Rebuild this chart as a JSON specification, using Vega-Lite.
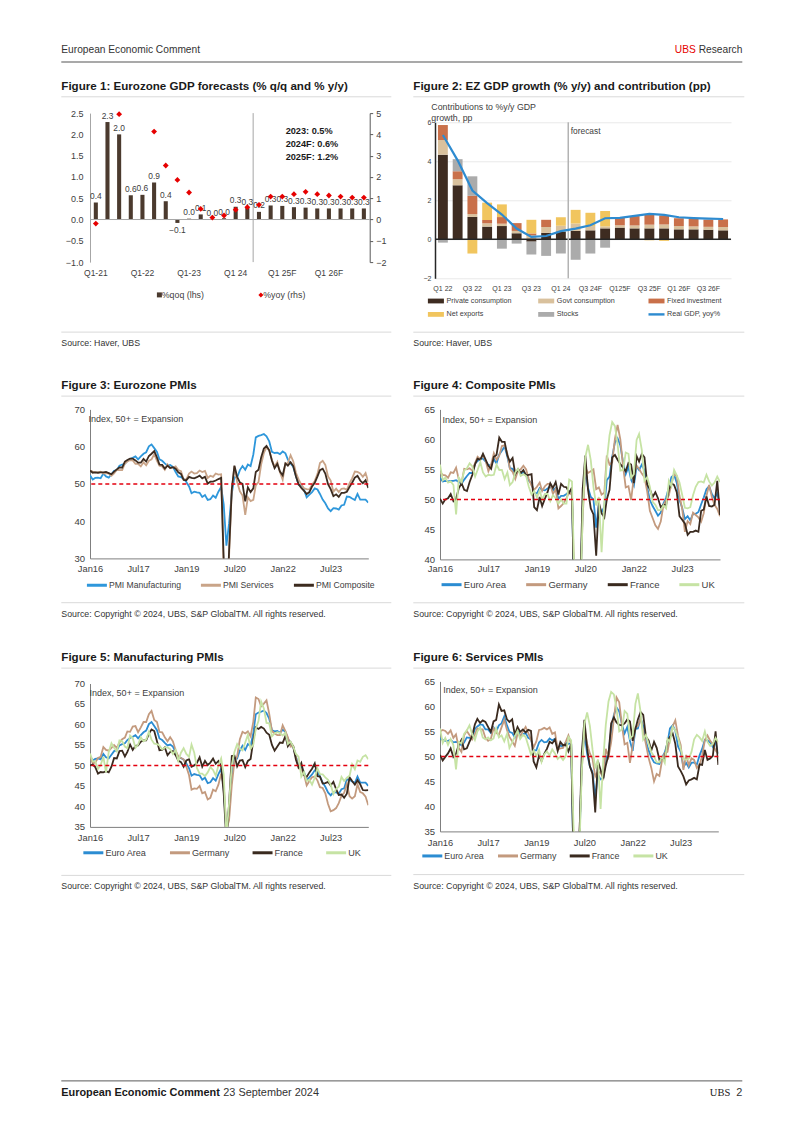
{
"$schema": "https://vega.github.io/schema/vega-lite/v6.json",
"background": "white",
"autosize": {"type": "pad"},
"padding": {"left": 60, "top": 44.5, "right": 20, "bottom": 20},
"datasets": {
"pmi": [
{"d":"2016-01","em":52.3,"es":53.6,"ec":53.6,"gm":52.3,"gs":55.0,"gc":54.5,"fm":50.0,"fs":50.3,"fc":50.1,"um":52.9,"us":55.6,"uc":55.8},
{"d":"2016-02","em":51.2,"es":53.3,"ec":53.0,"gm":50.5,"gs":55.3,"gc":54.1,"fm":50.2,"fs":49.2,"fc":49.3,"um":51.0,"us":52.7,"uc":53.2},
{"d":"2016-03","em":51.6,"es":53.1,"ec":53.1,"gm":50.7,"gs":55.1,"gc":54.0,"fm":49.6,"fs":49.9,"fc":50.0,"um":51.0,"us":53.7,"uc":53.6},
{"d":"2016-04","em":51.7,"es":53.1,"ec":53.0,"gm":51.8,"gs":54.5,"gc":53.6,"fm":48.0,"fs":50.6,"fc":50.2,"um":49.2,"us":52.3,"uc":52.8},
{"d":"2016-05","em":51.5,"es":53.3,"ec":53.1,"gm":52.1,"gs":55.2,"gc":54.5,"fm":48.4,"fs":51.6,"fc":50.9,"um":50.1,"us":53.5,"uc":53.0},
{"d":"2016-06","em":52.8,"es":52.8,"ec":53.1,"gm":54.5,"gs":53.7,"gc":54.4,"fm":48.3,"fs":49.9,"fc":49.7,"um":52.1,"us":52.3,"uc":52.4},
{"d":"2016-07","em":52.0,"es":52.9,"ec":53.2,"gm":53.8,"gs":54.4,"gc":55.3,"fm":48.6,"fs":50.5,"fc":50.1,"um":48.3,"us":47.4,"uc":47.5},
{"d":"2016-08","em":51.7,"es":52.8,"ec":52.9,"gm":53.6,"gs":51.7,"gc":53.3,"fm":48.3,"fs":52.3,"fc":51.9,"um":53.3,"us":52.9,"uc":53.6},
{"d":"2016-09","em":52.6,"es":52.2,"ec":52.6,"gm":54.3,"gs":50.9,"gc":52.8,"fm":49.7,"fs":53.3,"fc":52.7,"um":55.4,"us":52.6,"uc":52.9},
{"d":"2016-10","em":53.5,"es":52.8,"ec":53.3,"gm":55.0,"gs":54.2,"gc":55.1,"fm":51.8,"fs":51.4,"fc":51.6,"um":54.3,"us":54.5,"uc":54.8},
{"d":"2016-11","em":53.7,"es":53.8,"ec":53.9,"gm":54.3,"gs":55.1,"gc":55.0,"fm":51.7,"fs":51.6,"fc":51.4,"um":53.4,"us":55.2,"uc":55.2},
{"d":"2016-12","em":54.9,"es":53.7,"ec":54.4,"gm":55.6,"gs":54.3,"gc":55.2,"fm":53.5,"fs":52.9,"fc":52.9,"um":56.1,"us":56.2,"uc":56.0},
{"d":"2017-01","em":55.2,"es":53.7,"ec":54.4,"gm":56.4,"gs":53.4,"gc":54.8,"fm":53.6,"fs":54.1,"fc":54.1,"um":55.9,"us":54.5,"uc":55.5},
{"d":"2017-02","em":55.4,"es":55.5,"ec":56.0,"gm":56.8,"gs":54.4,"gc":56.1,"fm":52.2,"fs":56.4,"fc":55.9,"um":54.6,"us":53.3,"uc":53.8},
{"d":"2017-03","em":56.2,"es":56.0,"ec":56.4,"gm":58.3,"gs":55.6,"gc":57.1,"fm":53.3,"fs":57.5,"fc":56.8,"um":54.2,"us":55.0,"uc":54.9},
{"d":"2017-04","em":56.7,"es":56.4,"ec":56.8,"gm":58.2,"gs":55.4,"gc":56.7,"fm":55.1,"fs":56.7,"fc":56.6,"um":57.3,"us":55.8,"uc":56.2},
{"d":"2017-05","em":57.0,"es":56.3,"ec":56.8,"gm":59.5,"gs":55.4,"gc":57.4,"fm":53.8,"fs":57.2,"fc":57.6,"um":56.7,"us":53.8,"uc":54.5},
{"d":"2017-06","em":57.4,"es":55.4,"ec":56.3,"gm":59.6,"gs":53.7,"gc":56.4,"fm":54.8,"fs":56.9,"fc":56.6,"um":54.3,"us":53.4,"uc":53.8},
{"d":"2017-07","em":56.6,"es":55.4,"ec":55.7,"gm":58.1,"gs":53.1,"gc":54.7,"fm":54.9,"fs":55.9,"fc":55.6,"um":55.1,"us":53.8,"uc":54.1},
{"d":"2017-08","em":57.4,"es":54.7,"ec":55.7,"gm":59.3,"gs":53.5,"gc":55.8,"fm":55.8,"fs":54.9,"fc":55.1,"um":56.9,"us":53.2,"uc":54.0},
{"d":"2017-09","em":58.1,"es":55.8,"ec":56.7,"gm":60.6,"gs":55.6,"gc":57.7,"fm":56.1,"fs":57.0,"fc":57.1,"um":55.9,"us":53.6,"uc":54.1},
{"d":"2017-10","em":58.5,"es":55.0,"ec":56.0,"gm":60.6,"gs":54.7,"gc":56.6,"fm":56.1,"fs":57.3,"fc":57.4,"um":56.3,"us":55.6,"uc":55.8},
{"d":"2017-11","em":60.1,"es":56.2,"ec":57.5,"gm":62.5,"gs":54.3,"gc":57.3,"fm":57.7,"fs":60.4,"fc":60.3,"um":58.2,"us":53.8,"uc":54.9},
{"d":"2017-12","em":60.6,"es":56.6,"ec":58.1,"gm":63.3,"gs":55.8,"gc":58.9,"fm":58.8,"fs":59.1,"fc":59.6,"um":56.3,"us":54.2,"uc":54.9},
{"d":"2018-01","em":59.6,"es":58.0,"ec":58.8,"gm":61.1,"gs":57.3,"gc":59.0,"fm":58.4,"fs":59.2,"fc":59.6,"um":55.3,"us":53.0,"uc":53.4},
{"d":"2018-02","em":58.6,"es":56.2,"ec":57.1,"gm":60.6,"gs":55.3,"gc":57.6,"fm":55.9,"fs":57.4,"fc":57.3,"um":55.2,"us":54.5,"uc":54.5},
{"d":"2018-03","em":56.6,"es":54.9,"ec":55.2,"gm":58.2,"gs":53.9,"gc":55.1,"fm":53.7,"fs":56.9,"fc":56.3,"um":54.9,"us":51.7,"uc":52.4},
{"d":"2018-04","em":56.2,"es":54.7,"ec":55.1,"gm":58.1,"gs":53.0,"gc":54.6,"fm":53.8,"fs":57.4,"fc":56.9,"um":53.9,"us":52.8,"uc":52.9},
{"d":"2018-05","em":55.5,"es":53.8,"ec":54.1,"gm":56.9,"gs":52.1,"gc":53.4,"fm":54.4,"fs":54.3,"fc":54.2,"um":54.4,"us":54.0,"uc":54.5},
{"d":"2018-06","em":54.9,"es":55.2,"ec":54.9,"gm":55.9,"gs":54.5,"gc":54.8,"fm":52.5,"fs":55.9,"fc":55.0,"um":54.4,"us":55.1,"uc":55.1},
{"d":"2018-07","em":55.1,"es":54.2,"ec":54.3,"gm":56.9,"gs":54.1,"gc":55.0,"fm":53.3,"fs":54.9,"fc":54.4,"um":54.0,"us":53.5,"uc":53.9},
{"d":"2018-08","em":54.6,"es":54.4,"ec":54.5,"gm":55.9,"gs":55.0,"gc":55.6,"fm":53.5,"fs":55.4,"fc":54.9,"um":52.8,"us":54.3,"uc":54.2},
{"d":"2018-09","em":53.2,"es":54.7,"ec":54.1,"gm":53.7,"gs":55.9,"gc":55.0,"fm":52.5,"fs":54.8,"fc":54.0,"um":53.8,"us":53.9,"uc":53.9},
{"d":"2018-10","em":52.0,"es":53.7,"ec":53.1,"gm":52.2,"gs":54.7,"gc":53.4,"fm":51.2,"fs":55.3,"fc":54.1,"um":51.1,"us":52.2,"uc":52.1},
{"d":"2018-11","em":51.8,"es":53.4,"ec":52.7,"gm":51.8,"gs":53.3,"gc":52.3,"fm":50.8,"fs":55.1,"fc":54.2,"um":53.1,"us":50.4,"uc":50.8},
{"d":"2018-12","em":51.4,"es":51.2,"ec":51.1,"gm":51.5,"gs":51.8,"gc":51.6,"fm":49.7,"fs":49.0,"fc":48.7,"um":54.2,"us":51.2,"uc":51.4},
{"d":"2019-01","em":50.5,"es":51.2,"ec":51.0,"gm":49.7,"gs":53.0,"gc":52.1,"fm":51.2,"fs":47.8,"fc":48.2,"um":52.8,"us":50.1,"uc":50.3},
{"d":"2019-02","em":49.3,"es":52.8,"ec":51.9,"gm":47.6,"gs":55.3,"gc":52.8,"fm":51.5,"fs":50.2,"fc":50.4,"um":52.1,"us":51.3,"uc":51.5},
{"d":"2019-03","em":47.5,"es":53.3,"ec":51.6,"gm":44.1,"gs":55.4,"gc":51.4,"fm":49.7,"fs":49.1,"fc":48.9,"um":55.1,"us":48.9,"uc":50.0},
{"d":"2019-04","em":47.9,"es":52.8,"ec":51.5,"gm":44.4,"gs":55.7,"gc":52.2,"fm":50.0,"fs":50.5,"fc":50.1,"um":53.1,"us":50.4,"uc":50.9},
{"d":"2019-05","em":47.7,"es":52.9,"ec":51.8,"gm":44.3,"gs":55.4,"gc":52.6,"fm":50.6,"fs":51.5,"fc":51.2,"um":49.4,"us":51.0,"uc":50.9},
{"d":"2019-06","em":47.6,"es":53.6,"ec":52.2,"gm":45.0,"gs":55.8,"gc":52.6,"fm":52.0,"fs":52.9,"fc":52.7,"um":48.0,"us":50.2,"uc":49.7},
{"d":"2019-07","em":46.5,"es":53.2,"ec":51.5,"gm":43.2,"gs":54.5,"gc":50.9,"fm":49.7,"fs":52.6,"fc":51.9,"um":48.0,"us":51.4,"uc":50.7},
{"d":"2019-08","em":47.0,"es":53.5,"ec":51.9,"gm":43.5,"gs":54.8,"gc":51.7,"fm":51.1,"fs":53.4,"fc":52.9,"um":47.4,"us":50.6,"uc":50.2},
{"d":"2019-09","em":45.7,"es":51.6,"ec":50.1,"gm":41.7,"gs":51.4,"gc":48.5,"fm":50.1,"fs":51.1,"fc":50.8,"um":48.3,"us":49.5,"uc":49.3},
{"d":"2019-10","em":45.9,"es":52.2,"ec":50.6,"gm":42.1,"gs":51.6,"gc":48.9,"fm":50.7,"fs":52.9,"fc":52.6,"um":49.6,"us":50.0,"uc":50.0},
{"d":"2019-11","em":46.9,"es":51.9,"ec":50.6,"gm":44.1,"gs":51.7,"gc":49.4,"fm":51.7,"fs":52.2,"fc":52.1,"um":48.9,"us":49.3,"uc":49.3},
{"d":"2019-12","em":46.3,"es":52.8,"ec":50.9,"gm":43.7,"gs":52.9,"gc":50.2,"fm":50.4,"fs":52.4,"fc":52.0,"um":47.5,"us":50.0,"uc":49.3},
{"d":"2020-01","em":47.9,"es":52.5,"ec":51.3,"gm":45.3,"gs":54.2,"gc":51.2,"fm":51.1,"fs":51.0,"fc":51.1,"um":50.0,"us":53.9,"uc":53.3},
{"d":"2020-02","em":49.2,"es":52.6,"ec":51.6,"gm":48.0,"gs":52.5,"gc":50.7,"fm":49.8,"fs":52.5,"fc":52.0,"um":51.7,"us":53.2,"uc":53.0},
{"d":"2020-03","em":44.5,"es":26.4,"ec":29.7,"gm":45.4,"gs":31.7,"gc":35.0,"fm":43.2,"fs":27.4,"fc":28.9,"um":47.8,"us":34.5,"uc":36.0},
{"d":"2020-04","em":33.4,"es":12.0,"ec":13.6,"gm":34.5,"gs":16.2,"gc":17.4,"fm":31.5,"fs":10.2,"fc":11.1,"um":32.6,"us":13.4,"uc":13.8},
{"d":"2020-05","em":39.4,"es":30.5,"ec":31.9,"gm":36.6,"gs":32.6,"gc":32.3,"fm":40.6,"fs":31.1,"fc":32.1,"um":40.7,"us":29.0,"uc":30.0},
{"d":"2020-06","em":47.4,"es":48.3,"ec":48.5,"gm":45.2,"gs":47.3,"gc":47.0,"fm":52.3,"fs":50.7,"fc":51.7,"um":50.1,"us":47.1,"uc":47.7},
{"d":"2020-07","em":51.8,"es":54.7,"ec":54.9,"gm":51.0,"gs":55.6,"gc":55.3,"fm":52.4,"fs":57.3,"fc":57.3,"um":53.3,"us":56.5,"uc":57.0},
{"d":"2020-08","em":51.7,"es":50.5,"ec":51.9,"gm":52.2,"gs":52.5,"gc":54.4,"fm":49.8,"fs":51.5,"fc":51.6,"um":55.2,"us":58.8,"uc":59.1},
{"d":"2020-09","em":53.7,"es":48.0,"ec":50.4,"gm":56.4,"gs":50.6,"gc":54.7,"fm":51.2,"fs":48.0,"fc":48.5,"um":54.1,"us":56.1,"uc":56.5},
{"d":"2020-10","em":54.8,"es":46.9,"ec":50.0,"gm":58.2,"gs":49.5,"gc":55.0,"fm":51.3,"fs":46.5,"fc":47.5,"um":53.7,"us":51.4,"uc":52.1},
{"d":"2020-11","em":53.8,"es":41.7,"ec":45.3,"gm":57.8,"gs":46.0,"gc":51.7,"fm":49.6,"fs":38.8,"fc":40.6,"um":55.6,"us":47.6,"uc":49.0},
{"d":"2020-12","em":55.2,"es":46.4,"ec":49.1,"gm":58.3,"gs":47.0,"gc":52.0,"fm":51.1,"fs":49.1,"fc":49.5,"um":57.5,"us":49.4,"uc":50.4},
{"d":"2021-01","em":54.8,"es":45.4,"ec":47.8,"gm":57.1,"gs":46.7,"gc":50.8,"fm":51.6,"fs":47.3,"fc":47.7,"um":54.1,"us":39.5,"uc":41.2},
{"d":"2021-02","em":57.9,"es":45.7,"ec":48.8,"gm":60.7,"gs":45.7,"gc":51.1,"fm":56.1,"fs":45.6,"fc":47.0,"um":55.1,"us":49.5,"uc":49.6},
{"d":"2021-03","em":62.5,"es":49.6,"ec":53.2,"gm":66.6,"gs":51.5,"gc":57.3,"fm":59.3,"fs":48.2,"fc":50.0,"um":58.9,"us":56.3,"uc":56.4},
{"d":"2021-04","em":62.9,"es":50.5,"ec":53.8,"gm":66.2,"gs":49.9,"gc":55.8,"fm":58.9,"fs":50.3,"fc":51.6,"um":60.9,"us":61.0,"uc":60.7},
{"d":"2021-05","em":63.1,"es":55.2,"ec":57.1,"gm":64.4,"gs":52.8,"gc":56.2,"fm":59.4,"fs":56.6,"fc":57.0,"um":65.6,"us":62.9,"uc":62.9},
{"d":"2021-06","em":63.4,"es":58.3,"ec":59.5,"gm":65.1,"gs":57.5,"gc":60.1,"fm":59.0,"fs":57.8,"fc":57.4,"um":63.9,"us":62.4,"uc":62.2},
{"d":"2021-07","em":62.8,"es":59.8,"ec":60.2,"gm":65.9,"gs":61.8,"gc":62.4,"fm":58.0,"fs":56.8,"fc":56.6,"um":60.4,"us":59.6,"uc":59.2},
{"d":"2021-08","em":61.4,"es":59.0,"ec":59.0,"gm":62.6,"gs":60.8,"gc":60.0,"fm":57.5,"fs":56.3,"fc":55.9,"um":60.3,"us":55.0,"uc":54.8},
{"d":"2021-09","em":58.6,"es":56.4,"ec":56.2,"gm":58.4,"gs":56.2,"gc":55.5,"fm":55.0,"fs":56.2,"fc":55.3,"um":57.1,"us":55.4,"uc":54.9},
{"d":"2021-10","em":58.3,"es":54.6,"ec":54.2,"gm":57.8,"gs":52.4,"gc":52.0,"fm":53.6,"fs":56.6,"fc":54.7,"um":57.8,"us":59.1,"uc":57.8},
{"d":"2021-11","em":58.4,"es":55.9,"ec":55.4,"gm":57.4,"gs":52.7,"gc":52.2,"fm":54.6,"fs":57.4,"fc":56.1,"um":58.1,"us":58.5,"uc":57.6},
{"d":"2021-12","em":58.0,"es":53.1,"ec":53.3,"gm":57.4,"gs":48.7,"gc":49.9,"fm":55.6,"fs":57.0,"fc":55.8,"um":57.9,"us":53.6,"uc":53.6},
{"d":"2022-01","em":58.7,"es":51.1,"ec":52.3,"gm":59.8,"gs":52.2,"gc":53.8,"fm":55.5,"fs":53.1,"fc":52.7,"um":57.3,"us":54.1,"uc":54.2},
{"d":"2022-02","em":58.2,"es":55.5,"ec":55.5,"gm":58.4,"gs":55.8,"gc":55.6,"fm":57.2,"fs":55.5,"fc":57.2,"um":58.0,"us":60.5,"uc":59.9},
{"d":"2022-03","em":56.5,"es":55.6,"ec":54.9,"gm":56.9,"gs":56.1,"gc":55.1,"fm":54.7,"fs":57.4,"fc":56.3,"um":55.2,"us":62.6,"uc":60.9},
{"d":"2022-04","em":55.5,"es":57.7,"ec":55.8,"gm":54.6,"gs":57.6,"gc":54.3,"fm":55.7,"fs":58.9,"fc":57.6,"um":55.8,"us":58.9,"uc":58.2},
{"d":"2022-05","em":54.6,"es":56.1,"ec":54.8,"gm":54.8,"gs":55.0,"gc":53.7,"fm":54.6,"fs":58.3,"fc":57.0,"um":54.6,"us":53.4,"uc":53.1},
{"d":"2022-06","em":52.1,"es":53.0,"ec":52.0,"gm":52.0,"gs":52.4,"gc":51.3,"fm":51.4,"fs":53.9,"fc":52.5,"um":52.8,"us":54.3,"uc":53.7},
{"d":"2022-07","em":49.8,"es":51.2,"ec":49.9,"gm":49.3,"gs":49.7,"gc":48.1,"fm":49.5,"fs":53.2,"fc":51.7,"um":52.1,"us":52.6,"uc":52.1},
{"d":"2022-08","em":49.6,"es":49.8,"ec":48.9,"gm":49.1,"gs":47.7,"gc":46.9,"fm":50.6,"fs":51.2,"fc":50.4,"um":47.3,"us":50.9,"uc":49.6},
{"d":"2022-09","em":48.4,"es":48.8,"ec":48.1,"gm":47.8,"gs":45.0,"gc":45.7,"fm":47.7,"fs":52.9,"fc":51.2,"um":48.4,"us":50.0,"uc":49.1},
{"d":"2022-10","em":46.4,"es":48.6,"ec":47.3,"gm":45.1,"gs":46.5,"gc":45.1,"fm":47.2,"fs":51.7,"fc":50.2,"um":46.2,"us":48.8,"uc":48.2},
{"d":"2022-11","em":47.1,"es":48.5,"ec":47.8,"gm":46.2,"gs":46.1,"gc":46.3,"fm":48.3,"fs":49.3,"fc":48.7,"um":46.5,"us":48.8,"uc":48.2},
{"d":"2022-12","em":47.8,"es":49.8,"ec":49.3,"gm":47.1,"gs":49.2,"gc":49.0,"fm":49.2,"fs":49.5,"fc":49.1,"um":45.3,"us":49.9,"uc":49.0},
{"d":"2023-01","em":48.8,"es":50.8,"ec":50.3,"gm":47.3,"gs":50.7,"gc":49.9,"fm":50.5,"fs":49.4,"fc":49.1,"um":47.0,"us":48.7,"uc":48.5},
{"d":"2023-02","em":48.5,"es":52.7,"ec":52.0,"gm":46.3,"gs":50.9,"gc":50.7,"fm":47.4,"fs":53.1,"fc":51.7,"um":49.3,"us":53.5,"uc":53.1},
{"d":"2023-03","em":47.3,"es":55.6,"ec":53.7,"gm":44.7,"gs":53.7,"gc":52.6,"fm":47.3,"fs":53.9,"fc":52.7,"um":47.9,"us":52.9,"uc":52.2},
{"d":"2023-04","em":45.8,"es":56.2,"ec":54.1,"gm":44.5,"gs":56.0,"gc":54.2,"fm":45.6,"fs":54.6,"fc":52.4,"um":47.8,"us":55.9,"uc":54.9},
{"d":"2023-05","em":44.8,"es":55.1,"ec":52.8,"gm":43.2,"gs":57.2,"gc":53.9,"fm":45.7,"fs":52.5,"fc":51.2,"um":47.1,"us":55.2,"uc":54.0},
{"d":"2023-06","em":43.4,"es":52.0,"ec":49.9,"gm":40.6,"gs":54.1,"gc":50.6,"fm":46.0,"fs":48.0,"fc":47.2,"um":46.5,"us":53.7,"uc":52.8},
{"d":"2023-07","em":42.7,"es":50.9,"ec":48.6,"gm":38.8,"gs":52.3,"gc":48.5,"fm":45.1,"fs":47.1,"fc":46.6,"um":45.3,"us":51.5,"uc":50.8},
{"d":"2023-08","em":43.5,"es":47.9,"ec":46.7,"gm":39.1,"gs":47.3,"gc":44.6,"fm":46.0,"fs":46.0,"fc":46.0,"um":43.0,"us":49.5,"uc":48.6},
{"d":"2023-09","em":43.4,"es":48.7,"ec":47.2,"gm":39.6,"gs":50.3,"gc":46.4,"fm":44.2,"fs":44.4,"fc":44.1,"um":44.3,"us":49.3,"uc":48.5},
{"d":"2023-10","em":43.1,"es":47.8,"ec":46.5,"gm":40.8,"gs":48.2,"gc":45.9,"fm":42.8,"fs":45.2,"fc":44.6,"um":44.8,"us":49.5,"uc":48.7},
{"d":"2023-11","em":44.2,"es":48.7,"ec":47.6,"gm":42.6,"gs":49.6,"gc":47.8,"fm":42.9,"fs":45.4,"fc":44.6,"um":47.2,"us":50.9,"uc":50.7},
{"d":"2023-12","em":44.4,"es":48.8,"ec":47.6,"gm":43.3,"gs":49.3,"gc":47.4,"fm":42.1,"fs":45.7,"fc":44.8,"um":46.2,"us":53.4,"uc":52.1},
{"d":"2024-01","em":46.6,"es":48.4,"ec":47.9,"gm":45.5,"gs":47.7,"gc":47.0,"fm":43.1,"fs":45.4,"fc":44.6,"um":47.0,"us":54.3,"uc":52.9},
{"d":"2024-02","em":46.5,"es":50.2,"ec":49.2,"gm":42.5,"gs":48.3,"gc":46.3,"fm":47.1,"fs":48.4,"fc":48.1,"um":47.5,"us":53.8,"uc":53.0},
{"d":"2024-03","em":46.1,"es":51.5,"ec":50.3,"gm":41.9,"gs":50.1,"gc":47.7,"fm":46.2,"fs":48.3,"fc":48.3,"um":50.3,"us":53.1,"uc":52.8},
{"d":"2024-04","em":45.7,"es":53.3,"ec":51.7,"gm":42.5,"gs":53.2,"gc":50.6,"fm":45.3,"fs":51.3,"fc":50.5,"um":49.1,"us":55.0,"uc":54.1},
{"d":"2024-05","em":47.3,"es":53.2,"ec":52.2,"gm":45.4,"gs":54.2,"gc":52.4,"fm":46.4,"fs":49.3,"fc":48.9,"um":51.2,"us":52.9,"uc":53.0},
{"d":"2024-06","em":45.8,"es":52.8,"ec":50.9,"gm":43.5,"gs":53.1,"gc":50.4,"fm":45.4,"fs":49.6,"fc":48.8,"um":50.9,"us":52.1,"uc":52.3},
{"d":"2024-07","em":45.8,"es":51.9,"ec":50.2,"gm":43.2,"gs":52.5,"gc":49.1,"fm":44.0,"fs":50.1,"fc":49.1,"um":52.1,"us":52.5,"uc":52.8},
{"d":"2024-08","em":45.8,"es":52.9,"ec":51.0,"gm":42.4,"gs":51.2,"gc":48.4,"fm":43.9,"fs":55.0,"fc":53.1,"um":52.5,"us":53.7,"uc":53.8},
{"d":"2024-09","em":45.0,"es":50.5,"ec":48.9,"gm":40.3,"gs":50.6,"gc":47.2,"fm":44.0,"fs":48.3,"fc":47.4,"um":51.5,"us":52.8,"uc":52.9}
]
},
"resolve": {"scale": {"color": "independent"}, "legend": {"color": "independent"}},
"vconcat": [
{
"resolve": {"scale": {"color": "independent"}, "legend": {"color": "independent"}},
"vconcat": [
{
"width": 652.3, "height": 17.5,
"data": {"values": [{}]},
"layer": [
{"mark": {"type": "text", "align": "left", "baseline": "top", "fontSize": 10.2, "color": "#333333"},
 "encoding": {"x": {"datum": 0, "type": "quantitative", "scale": {"domain": [0, 1], "range": [-28.7, 652.3]}, "axis": null}, "y": {"datum": 1, "type": "quantitative", "scale": {"domain": [0, 1]}, "axis": null}, "text": {"value": "European Economic Comment"}}},
{"mark": {"type": "text", "align": "right", "baseline": "top", "fontSize": 10.2, "color": "#333333"},
 "encoding": {"x": {"datum": 1, "type": "quantitative"}, "y": {"datum": 1, "type": "quantitative"}, "text": {"value": "Research"}}},
{"mark": {"type": "text", "align": "right", "baseline": "top", "fontSize": 10.2, "color": "#E60000", "dx": -46.5},
 "encoding": {"x": {"datum": 1, "type": "quantitative"}, "y": {"datum": 1, "type": "quantitative"}, "text": {"value": "UBS"}}},
{"mark": {"type": "rule", "color": "#8c8c8c", "strokeWidth": 1.5},
 "encoding": {"x": {"datum": 0, "type": "quantitative"}, "x2": {"datum": 1}, "y": {"datum": 0, "type": "quantitative"}}}
]
},
{
"resolve": {"scale": {"color": "independent"}, "legend": {"color": "independent"}},
"hconcat": [
{
"resolve": {"scale": {"color": "independent"}, "legend": {"color": "independent"}},
"vconcat": [
{
"width": 301.3, "height": 16.3,
"data": {"values": [{}]},
"layer": [
{"mark": {"type": "text", "align": "left", "baseline": "top", "fontSize": 11.6, "fontWeight": "bold", "color": "#1a1a1a"},
 "encoding": {"x": {"datum": 0, "type": "quantitative", "scale": {"domain": [0, 1], "range": [-28.7, 301.3]}, "axis": null}, "y": {"datum": 1, "type": "quantitative", "scale": {"domain": [0, 1]}, "axis": null}, "text": {"value": "Figure 1: Eurozone GDP forecasts (% q/q and % y/y)"}}},
{"mark": {"type": "rule", "color": "#d9d9d9", "strokeWidth": 1},
 "encoding": {"x": {"datum": 0, "type": "quantitative"}, "x2": {"datum": 1}, "y": {"datum": 0, "type": "quantitative"}}}
]
},
{
"width": 279.7, "height": 149,
"data": {"values": [
{"q":"Q1-21","qoq":0.4,"yoy":-0.19},
{"q":"Q2-21","qoq":2.29},
{"q":"Q3-21","qoq":2.0,"yoy":4.95},
{"q":"Q4-21","qoq":0.57},
{"q":"Q1-22","qoq":0.58},
{"q":"Q2-22","qoq":0.87,"yoy":4.13},
{"q":"Q3-22","qoq":0.43,"yoy":2.54},
{"q":"Q4-22","qoq":-0.08,"yoy":1.86},
{"q":"Q1-23","qoq":0.02,"yoy":1.27},
{"q":"Q2-23","qoq":0.12,"yoy":0.5},
{"q":"Q3-23","qoq":0.0,"yoy":0.09},
{"q":"Q4-23","qoq":0.03,"yoy":0.19},
{"q":"Q1 24","qoq":0.3,"yoy":0.46},
{"q":"Q2 24","qoq":0.27,"yoy":0.58},
{"q":"Q3 24F","qoq":0.18,"yoy":0.69},
{"q":"Q4 24F","qoq":0.33,"yoy":1.08},
{"q":"Q1 25F","qoq":0.32,"yoy":1.08},
{"q":"Q2 25F","qoq":0.29,"yoy":1.19},
{"q":"Q3 25F","qoq":0.28,"yoy":1.3},
{"q":"Q4 25F","qoq":0.26,"yoy":1.19},
{"q":"Q1 26F","qoq":0.26,"yoy":1.13},
{"q":"Q2 26F","qoq":0.26,"yoy":1.08},
{"q":"Q3 26F","qoq":0.26,"yoy":1.03},
{"q":"Q4 26F","qoq":0.26,"yoy":1.03}
]},
"layer": [
{
"layer": [
{"mark": {"type": "bar"},
 "encoding": {
  "x": {"field": "q", "type": "nominal",
        "scale": {"domain": ["Q1-21","Q2-21","Q3-21","Q4-21","Q1-22","Q2-22","Q3-22","Q4-22","Q1-23","Q2-23","Q3-23","Q4-23","Q1 24","Q2 24","Q3 24F","Q4 24F","Q1 25F","Q2 25F","Q3 25F","Q4 25F","Q1 26F","Q2 26F","Q3 26F","Q4 26F"], "paddingInner": 0.65, "paddingOuter": 0.325},
        "axis": {"values": ["Q1-21","Q1-22","Q1-23","Q1 24","Q1 25F","Q1 26F"], "bandPosition": 0.5, "domain": false, "ticks": false, "labelAngle": 0, "labelFontSize": 8.5, "labelPadding": 6, "labelOverlap": false, "title": null}},
  "y": {"field": "qoq", "type": "quantitative",
        "scale": {"domain": [-1, 2.5], "nice": false, "zero": false},
        "axis": {"values": [-1, -0.5, 0, 0.5, 1, 1.5, 2, 2.5], "tickCount": 20, "format": ".1f", "domainColor": "#a6a6a6", "labelFontSize": 9, "labelPadding": 7, "labelOverlap": false, "title": null}},
  "color": {"datum": "%qoq (lhs)",
        "scale": {"domain": ["%qoq (lhs)", "%yoy (rhs)"], "range": ["#4B3A2E", "#E60000"]},
        "legend": {"title": null, "orient": "none", "legendX": 65, "legendY": 177, "direction": "horizontal", "labelFontSize": 8.8, "symbolSize": 25, "labelOffset": -2, "columnPadding": 52.5,
                   "encode": {"symbols": {"update": {"shape": {"signal": "datum.value === '%yoy (rhs)' ? 'diamond' : 'square'"}}}}}}
 }},
{"data": {"values": [{}]},
 "mark": {"type": "rule", "color": "#a6a6a6", "strokeWidth": 1},
 "encoding": {"y": {"datum": 0, "type": "quantitative"}}},
{"data": {"values": [{}]},
 "mark": {"type": "rule", "color": "#a6a6a6", "strokeWidth": 1},
 "encoding": {"x": {"datum": "Q3 24F", "type": "nominal", "bandPosition": -0.93}}},
{"transform": [{"filter": "datum.qoq >= 0"}],
 "mark": {"type": "text", "baseline": "bottom", "dy": -1.5, "fontSize": 8.4, "color": "#404040"},
 "encoding": {"x": {"field": "q", "type": "nominal"}, "y": {"field": "qoq", "type": "quantitative"}, "text": {"field": "qoq", "type": "quantitative", "format": ".1f"}}},
{"transform": [{"filter": "datum.qoq < 0"}],
 "mark": {"type": "text", "baseline": "top", "dy": 3, "fontSize": 8.4, "color": "#404040"},
 "encoding": {"x": {"field": "q", "type": "nominal"}, "y": {"field": "qoq", "type": "quantitative"}, "text": {"field": "qoq", "type": "quantitative", "format": ".1f"}}},
{"data": {"values": [{}]},
 "mark": {"type": "text", "align": "left", "baseline": "middle", "fontSize": 9.2, "fontWeight": "bold", "lineHeight": 13, "dx": 5.4, "color": "#1a1a1a"},
 "encoding": {"x": {"datum": "Q1 25F", "type": "nominal", "bandPosition": 0}, "y": {"datum": 2.077, "type": "quantitative"}, "text": {"value": ["2023: 0.5%", "2024F: 0.6%", "2025F: 1.2%"]}}}
]
},
{"mark": {"type": "point", "shape": "diamond", "filled": true, "size": 34, "opacity": 1},
 "encoding": {
  "x": {"field": "q", "type": "nominal"},
  "y": {"field": "yoy", "type": "quantitative",
        "scale": {"domain": [-2, 5], "nice": false, "zero": false},
        "axis": {"orient": "right", "values": [-2, -1, 0, 1, 2, 3, 4, 5], "tickCount": 20, "format": "d", "domainColor": "#595959", "ticks": true, "tickSize": 3, "tickColor": "#595959", "labelFontSize": 9, "labelPadding": 3, "labelOverlap": false, "title": null}},
  "color": {"datum": "%yoy (rhs)"}
 }}
],
"resolve": {"scale": {"y": "independent"}}
},
{
"width": 301.3, "height": 20.4,
"data": {"values": [{}]},
"layer": [
{"mark": {"type": "rule", "color": "#d9d9d9", "strokeWidth": 1},
 "encoding": {"x": {"datum": 0, "type": "quantitative", "scale": {"domain": [0, 1], "range": [-28.7, 301.3]}, "axis": null}, "x2": {"datum": 1}, "y": {"datum": 0, "type": "quantitative", "scale": {"domain": [0, 1]}, "axis": null}}},
{"mark": {"type": "text", "align": "left", "baseline": "middle", "dy": 10.5, "fontSize": 8.8, "color": "#333333"},
 "encoding": {"x": {"datum": 0, "type": "quantitative"}, "y": {"datum": 0, "type": "quantitative"}, "text": {"value": "Source: Haver, UBS"}}}
]
}
],
"spacing": 11.6
},
{
"resolve": {"scale": {"color": "independent"}, "legend": {"color": "independent"}},
"vconcat": [
{
"width": 309.3, "height": 16.3,
"data": {"values": [{}]},
"layer": [
{"mark": {"type": "text", "align": "left", "baseline": "top", "fontSize": 11.6, "fontWeight": "bold", "color": "#1a1a1a"},
 "encoding": {"x": {"datum": 0, "type": "quantitative", "scale": {"domain": [0, 1], "range": [-21.7, 309.3]}, "axis": null}, "y": {"datum": 1, "type": "quantitative", "scale": {"domain": [0, 1]}, "axis": null}, "text": {"value": "Figure 2: EZ GDP growth (% y/y) and contribution (pp)"}}},
{"mark": {"type": "rule", "color": "#d9d9d9", "strokeWidth": 1},
 "encoding": {"x": {"datum": 0, "type": "quantitative"}, "x2": {"datum": 1}, "y": {"datum": 0, "type": "quantitative"}}}
]
},
{
"width": 296, "height": 156,
"data": {"values": [
{"q":"Q1 22","Private consumption":4.34,"Govt consumption":0.75,"Fixed investment":0.77,"Net exports":0,"Stocks":-0.17,"gdp":5.35},
{"q":"Q2 22","Private consumption":2.77,"Govt consumption":0.31,"Fixed investment":0.41,"Net exports":0,"Stocks":0.62,"gdp":4.05},
{"q":"Q3 22","Private consumption":1.15,"Govt consumption":0.14,"Fixed investment":0.94,"Net exports":-0.73,"Stocks":1.0,"gdp":2.5},
{"q":"Q4 22","Private consumption":0.65,"Govt consumption":0.17,"Fixed investment":0.17,"Net exports":0.89,"Stocks":0,"gdp":1.86},
{"q":"Q1 23","Private consumption":0.68,"Govt consumption":0.12,"Fixed investment":0.34,"Net exports":0.65,"Stocks":-0.48,"gdp":1.27},
{"q":"Q2 23","Private consumption":0.31,"Govt consumption":0.12,"Fixed investment":0.4,"Net exports":0,"Stocks":-0.22,"gdp":0.55},
{"q":"Q3 23","Private consumption":-0.12,"Govt consumption":0.2,"Fixed investment":0.1,"Net exports":0.7,"Stocks":-0.66,"gdp":0.12},
{"q":"Q4 23","Private consumption":0.33,"Govt consumption":0.3,"Fixed investment":0.37,"Net exports":0,"Stocks":-0.85,"gdp":0.17},
{"q":"Q1 24","Private consumption":0.4,"Govt consumption":0.3,"Fixed investment":0,"Net exports":0.43,"Stocks":-0.73,"gdp":0.42},
{"q":"Q2 24","Private consumption":0.43,"Govt consumption":0.38,"Fixed investment":0,"Net exports":0.7,"Stocks":-1.05,"gdp":0.55},
{"q":"Q3 24F","Private consumption":0.46,"Govt consumption":0.22,"Fixed investment":0,"Net exports":0.68,"Stocks":-0.73,"gdp":0.72},
{"q":"Q4 24F","Private consumption":0.56,"Govt consumption":0.1,"Fixed investment":0,"Net exports":0.79,"Stocks":-0.43,"gdp":1.08},
{"q":"Q125F","Private consumption":0.6,"Govt consumption":0.12,"Fixed investment":0.38,"Net exports":0,"Stocks":0,"gdp":1.1},
{"q":"Q2 25F","Private consumption":0.56,"Govt consumption":0.15,"Fixed investment":0.48,"Net exports":0,"Stocks":0,"gdp":1.2},
{"q":"Q3 25F","Private consumption":0.56,"Govt consumption":0.19,"Fixed investment":0.52,"Net exports":-0.05,"Stocks":0,"gdp":1.3},
{"q":"Q4 25F","Private consumption":0.56,"Govt consumption":0.2,"Fixed investment":0.46,"Net exports":-0.08,"Stocks":0,"gdp":1.25},
{"q":"Q1 26F","Private consumption":0.51,"Govt consumption":0.17,"Fixed investment":0.4,"Net exports":0,"Stocks":0,"gdp":1.13},
{"q":"Q2 26F","Private consumption":0.51,"Govt consumption":0.15,"Fixed investment":0.38,"Net exports":0,"Stocks":0,"gdp":1.09},
{"q":"Q3 26F","Private consumption":0.49,"Govt consumption":0.15,"Fixed investment":0.37,"Net exports":0,"Stocks":0,"gdp":1.06},
{"q":"Q4 26F","Private consumption":0.46,"Govt consumption":0.17,"Fixed investment":0.39,"Net exports":0,"Stocks":0,"gdp":1.04}
]},
"layer": [
{"transform": [
  {"fold": ["Private consumption", "Govt consumption", "Fixed investment", "Net exports", "Stocks"], "as": ["k", "v"]},
  {"window": [{"op": "row_number", "as": "ord"}], "groupby": ["q"]}
 ],
 "mark": {"type": "bar"},
 "encoding": {
  "x": {"field": "q", "type": "nominal",
        "scale": {"domain": ["Q1 22","Q2 22","Q3 22","Q4 22","Q1 23","Q2 23","Q3 23","Q4 23","Q1 24","Q2 24","Q3 24F","Q4 24F","Q125F","Q2 25F","Q3 25F","Q4 25F","Q1 26F","Q2 26F","Q3 26F","Q4 26F"], "paddingInner": 0.33, "paddingOuter": 0.2},
        "axis": {"values": ["Q1 22","Q3 22","Q1 23","Q3 23","Q1 24","Q3 24F","Q125F","Q3 25F","Q1 26F","Q3 26F"], "bandPosition": 0.5, "domain": false, "ticks": false, "labelAngle": 0, "labelFontSize": 7, "labelPadding": 6, "labelOverlap": false, "title": null}},
  "y": {"field": "v", "type": "quantitative", "stack": "zero",
        "scale": {"domain": [-2, 6], "nice": false},
        "axis": {"values": [-2, 0, 2, 4, 6], "tickCount": 20, "format": "d", "grid": true, "gridColor": "#e9e9e9", "domainColor": "#262626", "domainWidth": 1.5, "labelFontSize": 7, "labelPadding": 4, "labelOverlap": false, "title": null}},
  "order": {"field": "ord", "type": "quantitative"},
  "color": {"field": "k", "type": "nominal",
        "scale": {"domain": ["Private consumption", "Govt consumption", "Fixed investment", "Net exports", "Stocks", "Real GDP, yoy%"], "range": ["#3E2C21", "#D9C19D", "#C9704A", "#F1C55E", "#ABABAB", "#2E8BD0"]},
        "legend": {"title": null, "orient": "none", "legendX": -2.7, "legendY": 175, "direction": "horizontal", "columns": 3, "gridAlign": "all", "columnPadding": 25.3, "rowPadding": 5.5, "labelFontSize": 7.2, "symbolSize": 36, "labelOffset": 7,
                   "encode": {"symbols": {"update": {
                     "shape": {"signal": "datum.value === 'Real GDP, yoy%' ? 'M-2.67,-0.4H2.67V0.4H-2.67Z' : 'M-2.67,-0.8H2.67V0.8H-2.67Z'"},
                     "fill": {"signal": "datum.value === 'Private consumption' ? '#3E2C21' : datum.value === 'Govt consumption' ? '#D9C19D' : datum.value === 'Fixed investment' ? '#C9704A' : datum.value === 'Net exports' ? '#F1C55E' : datum.value === 'Stocks' ? '#ABABAB' : '#2E8BD0'"},
                     "stroke": {"value": "transparent"},
                     "strokeWidth": {"value": 0},
                     "opacity": {"value": 1}}}}}}
 }},
{"data": {"values": [{}]},
 "mark": {"type": "rule", "color": "#262626", "strokeWidth": 1.5},
 "encoding": {"y": {"datum": 0, "type": "quantitative"}}},
{"data": {"values": [{}]},
 "mark": {"type": "rule", "color": "#b3b3b3", "strokeWidth": 1.5},
 "encoding": {"x": {"datum": "Q2 24", "type": "nominal", "bandPosition": -0.246}}},
{"mark": {"type": "line", "strokeWidth": 2.2},
 "encoding": {"x": {"field": "q", "type": "nominal"}, "y": {"field": "gdp", "type": "quantitative"}, "color": {"datum": "Real GDP, yoy%"}}},
{"data": {"values": [{}]},
 "mark": {"type": "text", "align": "left", "baseline": "middle", "fontSize": 8.8, "lineHeight": 11, "dx": -6.6, "color": "#404040"},
 "encoding": {"x": {"datum": "Q1 22", "type": "nominal", "bandPosition": 0}, "y": {"datum": 6.8, "type": "quantitative"}, "text": {"value": ["Contributions to %y/y GDP", "growth, pp"]}}},
{"data": {"values": [{}]},
 "mark": {"type": "text", "align": "left", "baseline": "middle", "fontSize": 8.4, "dx": 2.5, "color": "#404040"},
 "encoding": {"x": {"datum": "Q2 24", "type": "nominal", "bandPosition": -0.246}, "y": {"datum": 5.55, "type": "quantitative"}, "text": {"value": "forecast"}}}
]
},
{
"width": 309.3, "height": 9.1,
"data": {"values": [{}]},
"layer": [
{"mark": {"type": "rule", "color": "#d9d9d9", "strokeWidth": 1},
 "encoding": {"x": {"datum": 0, "type": "quantitative", "scale": {"domain": [0, 1], "range": [-21.7, 309.3]}, "axis": null}, "x2": {"datum": 1}, "y": {"datum": 0, "type": "quantitative", "scale": {"domain": [0, 1]}, "axis": null}}},
{"mark": {"type": "text", "align": "left", "baseline": "middle", "dy": 10.5, "fontSize": 8.8, "color": "#333333"},
 "encoding": {"x": {"datum": 0, "type": "quantitative"}, "y": {"datum": 0, "type": "quantitative"}, "text": {"value": "Source: Haver, UBS"}}}
]
}
],
"spacing": 4.8
}
],
"spacing": 20
}
],
"spacing": 17
},
{
"resolve": {"scale": {"color": "independent"}, "legend": {"color": "independent"}},
"hconcat": [
{
"resolve": {"scale": {"color": "independent"}, "legend": {"color": "independent"}},
"vconcat": [
{
"width": 301.3, "height": 16.6,
"data": {"values": [{}]},
"layer": [
{"mark": {"type": "text", "align": "left", "baseline": "top", "fontSize": 11.6, "fontWeight": "bold", "color": "#1a1a1a"},
 "encoding": {"x": {"datum": 0, "type": "quantitative", "scale": {"domain": [0, 1], "range": [-28.7, 301.3]}, "axis": null}, "y": {"datum": 1, "type": "quantitative", "scale": {"domain": [0, 1]}, "axis": null}, "text": {"value": "Figure 3: Eurozone PMIs"}}},
{"mark": {"type": "rule", "color": "#d9d9d9", "strokeWidth": 1},
 "encoding": {"x": {"datum": 0, "type": "quantitative"}, "x2": {"datum": 1}, "y": {"datum": 0, "type": "quantitative"}}}
]
},
{
"width": 278.3, "height": 149,
"data": {"name": "pmi"},
"layer": [
{"transform": [{"fold": ["em", "es", "ec"], "as": ["k", "v"]}],
 "mark": {"type": "line", "strokeWidth": 1.8, "clip": true},
 "encoding": {
  "x": {"field": "d", "type": "temporal",
        "scale": {"type": "utc", "domain": [{"year": 2016, "month": 1, "date": 1, "utc": true}, {"year": 2024, "month": 9, "date": 1, "utc": true}]},
        "axis": {"values": [{"year": 2016, "month": 1, "date": 1, "utc": true}, {"year": 2017, "month": 7, "date": 1, "utc": true}, {"year": 2019, "month": 1, "date": 1, "utc": true}, {"year": 2020, "month": 7, "date": 1, "utc": true}, {"year": 2022, "month": 1, "date": 1, "utc": true}, {"year": 2023, "month": 7, "date": 1, "utc": true}],
                 "tickCount": 20, "format": "%b%y", "domainColor": "#7f7f7f", "ticks": false, "labelFontSize": 9.3, "labelPadding": 6, "labelOverlap": false, "labelFlush": false, "title": null}},
  "y": {"field": "v", "type": "quantitative",
        "scale": {"domain": [30, 70], "nice": false},
        "axis": {"values": [30, 40, 50, 60, 70], "tickCount": 20, "domainColor": "#7f7f7f", "labelFontSize": 9.5, "labelPadding": 5.5, "labelOverlap": false, "title": null}},
  "color": {"field": "k", "type": "nominal",
        "scale": {"domain": ["em", "es", "ec"], "range": ["#2E97DB", "#C9A488", "#3C2B1F"]},
        "legend": {"title": null, "orient": "none", "legendX": 2.4, "legendY": 171.1, "direction": "horizontal", "labelFontSize": 8.6, "symbolType": "M-3.33,0H3.33", "symbolSize": 36, "symbolStrokeWidth": 3, "labelOffset": 7.5, "columnPadding": 13,
                   "labelExpr": "datum.label == 'em' ? 'PMI Manufacturing' : datum.label == 'es' ? 'PMI Services' : 'PMI Composite'"}}
 }},
{"data": {"values": [{}]},
 "mark": {"type": "rule", "color": "#E3000F", "strokeDash": [4, 3], "strokeWidth": 1.5},
 "encoding": {"y": {"datum": 50, "type": "quantitative"}}},
{"data": {"values": [{}]},
 "mark": {"type": "text", "align": "left", "baseline": "middle", "fontSize": 9, "dx": -1.4, "color": "#404040"},
 "encoding": {"x": {"datum": {"year": 2016, "month": 1, "date": 1, "utc": true}, "type": "temporal"}, "y": {"datum": 67.3, "type": "quantitative"}, "text": {"value": "Index, 50+ = Expansion"}}}
]
},
{
"width": 301.3, "height": 3.4,
"data": {"values": [{}]},
"layer": [
{"mark": {"type": "rule", "color": "#d9d9d9", "strokeWidth": 1},
 "encoding": {"x": {"datum": 0, "type": "quantitative", "scale": {"domain": [0, 1], "range": [-28.7, 301.3]}, "axis": null}, "x2": {"datum": 1}, "y": {"datum": 0, "type": "quantitative", "scale": {"domain": [0, 1]}, "axis": null}}},
{"mark": {"type": "text", "align": "left", "baseline": "middle", "dy": 11, "fontSize": 8.8, "color": "#333333"},
 "encoding": {"x": {"datum": 0, "type": "quantitative"}, "y": {"datum": 0, "type": "quantitative"}, "text": {"value": "Source: Copyright © 2024, UBS, S&P GlobalTM. All rights reserved."}}}
]
}
],
"spacing": 6.9
},
{
"resolve": {"scale": {"color": "independent"}, "legend": {"color": "independent"}},
"vconcat": [
{
"width": 304.3, "height": 16.6,
"data": {"values": [{}]},
"layer": [
{"mark": {"type": "text", "align": "left", "baseline": "top", "fontSize": 11.6, "fontWeight": "bold", "color": "#1a1a1a"},
 "encoding": {"x": {"datum": 0, "type": "quantitative", "scale": {"domain": [0, 1], "range": [-26.7, 304.3]}, "axis": null}, "y": {"datum": 1, "type": "quantitative", "scale": {"domain": [0, 1]}, "axis": null}, "text": {"value": "Figure 4: Composite PMIs"}}},
{"mark": {"type": "rule", "color": "#d9d9d9", "strokeWidth": 1},
 "encoding": {"x": {"datum": 0, "type": "quantitative"}, "x2": {"datum": 1}, "y": {"datum": 0, "type": "quantitative"}}}
]
},
{
"width": 280, "height": 150,
"data": {"name": "pmi"},
"layer": [
{"transform": [{"fold": ["ec", "gc", "fc", "uc"], "as": ["k", "v"]}],
 "mark": {"type": "line", "strokeWidth": 1.8, "clip": true},
 "encoding": {
  "x": {"field": "d", "type": "temporal",
        "scale": {"type": "utc", "domain": [{"year": 2016, "month": 1, "date": 1, "utc": true}, {"year": 2024, "month": 9, "date": 1, "utc": true}]},
        "axis": {"values": [{"year": 2016, "month": 1, "date": 1, "utc": true}, {"year": 2017, "month": 7, "date": 1, "utc": true}, {"year": 2019, "month": 1, "date": 1, "utc": true}, {"year": 2020, "month": 7, "date": 1, "utc": true}, {"year": 2022, "month": 1, "date": 1, "utc": true}, {"year": 2023, "month": 7, "date": 1, "utc": true}],
                 "tickCount": 20, "format": "%b%y", "domainColor": "#7f7f7f", "ticks": false, "labelFontSize": 9.3, "labelPadding": 5.3, "labelOverlap": false, "labelFlush": false, "title": null}},
  "y": {"field": "v", "type": "quantitative",
        "scale": {"domain": [40, 65], "nice": false},
        "axis": {"values": [40, 45, 50, 55, 60, 65], "tickCount": 20, "domainColor": "#7f7f7f", "labelFontSize": 9.5, "labelPadding": 5.5, "labelOverlap": false, "title": null}},
  "color": {"field": "k", "type": "nominal",
        "scale": {"domain": ["ec", "gc", "fc", "uc"], "range": ["#2B8CD2", "#C39A7E", "#3A2A1F", "#C6E3A4"]},
        "legend": {"title": null, "orient": "none", "legendX": 6.8, "legendY": 170.4, "direction": "horizontal", "labelFontSize": 9.5, "symbolType": "M-3.33,0H3.33", "symbolSize": 36, "symbolStrokeWidth": 3, "labelOffset": 7.5, "columnPadding": 12.6,
                   "labelExpr": "datum.label == 'ec' ? 'Euro Area' : datum.label == 'gc' ? 'Germany' : datum.label == 'fc' ? 'France' : 'UK'"}}
 }},
{"data": {"values": [{}]},
 "mark": {"type": "rule", "color": "#E3000F", "strokeDash": [4, 3], "strokeWidth": 1.5},
 "encoding": {"y": {"datum": 50, "type": "quantitative"}}},
{"data": {"values": [{}]},
 "mark": {"type": "text", "align": "left", "baseline": "middle", "fontSize": 9, "dx": 2.6, "color": "#404040"},
 "encoding": {"x": {"datum": {"year": 2016, "month": 1, "date": 1, "utc": true}, "type": "temporal"}, "y": {"datum": 63.3, "type": "quantitative"}, "text": {"value": "Index, 50+ = Expansion"}}}
]
},
{
"width": 304.3, "height": 4.5,
"data": {"values": [{}]},
"layer": [
{"mark": {"type": "rule", "color": "#d9d9d9", "strokeWidth": 1},
 "encoding": {"x": {"datum": 0, "type": "quantitative", "scale": {"domain": [0, 1], "range": [-26.7, 304.3]}, "axis": null}, "x2": {"datum": 1}, "y": {"datum": 0, "type": "quantitative", "scale": {"domain": [0, 1]}, "axis": null}}},
{"mark": {"type": "text", "align": "left", "baseline": "middle", "dy": 11, "fontSize": 8.8, "color": "#333333"},
 "encoding": {"x": {"datum": 0, "type": "quantitative"}, "y": {"datum": 0, "type": "quantitative"}, "text": {"value": "Source: Copyright © 2024, UBS, S&P GlobalTM. All rights reserved."}}}
]
}
],
"spacing": 6.9
}
],
"spacing": 20
},
{
"resolve": {"scale": {"color": "independent"}, "legend": {"color": "independent"}},
"hconcat": [
{
"resolve": {"scale": {"color": "independent"}, "legend": {"color": "independent"}},
"vconcat": [
{
"width": 301.3, "height": 16.6,
"data": {"values": [{}]},
"layer": [
{"mark": {"type": "text", "align": "left", "baseline": "top", "fontSize": 11.6, "fontWeight": "bold", "color": "#1a1a1a"},
 "encoding": {"x": {"datum": 0, "type": "quantitative", "scale": {"domain": [0, 1], "range": [-28.7, 301.3]}, "axis": null}, "y": {"datum": 1, "type": "quantitative", "scale": {"domain": [0, 1]}, "axis": null}, "text": {"value": "Figure 5: Manufacturing PMIs"}}},
{"mark": {"type": "rule", "color": "#d9d9d9", "strokeWidth": 1},
 "encoding": {"x": {"datum": 0, "type": "quantitative"}, "x2": {"datum": 1}, "y": {"datum": 0, "type": "quantitative"}}}
]
},
{
"width": 278.3, "height": 143.4,
"data": {"name": "pmi"},
"layer": [
{"transform": [{"fold": ["em", "gm", "fm", "um"], "as": ["k", "v"]}],
 "mark": {"type": "line", "strokeWidth": 1.8, "clip": true},
 "encoding": {
  "x": {"field": "d", "type": "temporal",
        "scale": {"type": "utc", "domain": [{"year": 2016, "month": 1, "date": 1, "utc": true}, {"year": 2024, "month": 9, "date": 1, "utc": true}]},
        "axis": {"values": [{"year": 2016, "month": 1, "date": 1, "utc": true}, {"year": 2017, "month": 7, "date": 1, "utc": true}, {"year": 2019, "month": 1, "date": 1, "utc": true}, {"year": 2020, "month": 7, "date": 1, "utc": true}, {"year": 2022, "month": 1, "date": 1, "utc": true}, {"year": 2023, "month": 7, "date": 1, "utc": true}],
                 "tickCount": 20, "format": "%b%y", "domainColor": "#7f7f7f", "ticks": false, "labelFontSize": 9.3, "labelPadding": 6.3, "labelOverlap": false, "labelFlush": false, "title": null}},
  "y": {"field": "v", "type": "quantitative",
        "scale": {"domain": [35, 70], "nice": false},
        "axis": {"values": [35, 40, 45, 50, 55, 60, 65, 70], "tickCount": 20, "domainColor": "#7f7f7f", "labelFontSize": 9.5, "labelPadding": 5.5, "labelOverlap": false, "title": null}},
  "color": {"field": "k", "type": "nominal",
        "scale": {"domain": ["em", "gm", "fm", "um"], "range": ["#2B8CD2", "#C39A7E", "#3A2A1F", "#C6E3A4"]},
        "legend": {"title": null, "orient": "none", "legendX": -1.2, "legendY": 164.5, "direction": "horizontal", "labelFontSize": 9.1, "symbolType": "M-3.33,0H3.33", "symbolSize": 36, "symbolStrokeWidth": 3, "labelOffset": 7.5, "columnPadding": 16.6,
                   "labelExpr": "datum.label == 'em' ? 'Euro Area' : datum.label == 'gm' ? 'Germany' : datum.label == 'fm' ? 'France' : 'UK'"}}
 }},
{"data": {"values": [{}]},
 "mark": {"type": "rule", "color": "#E3000F", "strokeDash": [4, 3], "strokeWidth": 1.5},
 "encoding": {"y": {"datum": 50, "type": "quantitative"}}},
{"data": {"values": [{}]},
 "mark": {"type": "text", "align": "left", "baseline": "middle", "fontSize": 9, "dx": -0.4, "color": "#404040"},
 "encoding": {"x": {"datum": {"year": 2016, "month": 1, "date": 1, "utc": true}, "type": "temporal"}, "y": {"datum": 67.7, "type": "quantitative"}, "text": {"value": "Index, 50+ = Expansion"}}}
]
},
{
"width": 301.3, "height": 6.9,
"data": {"values": [{}]},
"layer": [
{"mark": {"type": "rule", "color": "#d9d9d9", "strokeWidth": 1},
 "encoding": {"x": {"datum": 0, "type": "quantitative", "scale": {"domain": [0, 1], "range": [-28.7, 301.3]}, "axis": null}, "x2": {"datum": 1}, "y": {"datum": 0, "type": "quantitative", "scale": {"domain": [0, 1]}, "axis": null}}},
{"mark": {"type": "text", "align": "left", "baseline": "middle", "dy": 11, "fontSize": 8.8, "color": "#333333"},
 "encoding": {"x": {"datum": 0, "type": "quantitative"}, "y": {"datum": 0, "type": "quantitative"}, "text": {"value": "Source: Copyright © 2024, UBS, S&P GlobalTM. All rights reserved."}}}
]
}
],
"spacing": 9
},
{
"resolve": {"scale": {"color": "independent"}, "legend": {"color": "independent"}},
"vconcat": [
{
"width": 304.3, "height": 16.6,
"data": {"values": [{}]},
"layer": [
{"mark": {"type": "text", "align": "left", "baseline": "top", "fontSize": 11.6, "fontWeight": "bold", "color": "#1a1a1a"},
 "encoding": {"x": {"datum": 0, "type": "quantitative", "scale": {"domain": [0, 1], "range": [-26.7, 304.3]}, "axis": null}, "y": {"datum": 1, "type": "quantitative", "scale": {"domain": [0, 1]}, "axis": null}, "text": {"value": "Figure 6: Services PMIs"}}},
{"mark": {"type": "rule", "color": "#d9d9d9", "strokeWidth": 1},
 "encoding": {"x": {"datum": 0, "type": "quantitative"}, "x2": {"datum": 1}, "y": {"datum": 0, "type": "quantitative"}}}
]
},
{
"width": 278.3, "height": 150,
"data": {"name": "pmi"},
"layer": [
{"transform": [{"fold": ["es", "gs", "fs", "us"], "as": ["k", "v"]}],
 "mark": {"type": "line", "strokeWidth": 1.8, "clip": true},
 "encoding": {
  "x": {"field": "d", "type": "temporal",
        "scale": {"type": "utc", "domain": [{"year": 2016, "month": 1, "date": 1, "utc": true}, {"year": 2024, "month": 9, "date": 1, "utc": true}]},
        "axis": {"values": [{"year": 2016, "month": 1, "date": 1, "utc": true}, {"year": 2017, "month": 7, "date": 1, "utc": true}, {"year": 2019, "month": 1, "date": 1, "utc": true}, {"year": 2020, "month": 7, "date": 1, "utc": true}, {"year": 2022, "month": 1, "date": 1, "utc": true}, {"year": 2023, "month": 7, "date": 1, "utc": true}],
                 "tickCount": 20, "format": "%b%y", "domainColor": "#7f7f7f", "ticks": false, "labelFontSize": 9.3, "labelPadding": 6.6, "labelOverlap": false, "labelFlush": false, "title": null}},
  "y": {"field": "v", "type": "quantitative",
        "scale": {"domain": [35, 65], "nice": false},
        "axis": {"values": [35, 40, 45, 50, 55, 60, 65], "tickCount": 20, "domainColor": "#7f7f7f", "labelFontSize": 9.5, "labelPadding": 5.5, "labelOverlap": false, "title": null}},
  "color": {"field": "k", "type": "nominal",
        "scale": {"domain": ["es", "gs", "fs", "us"], "range": ["#2B8CD2", "#C39A7E", "#3A2A1F", "#C6E3A4"]},
        "legend": {"title": null, "orient": "none", "legendX": -12.2, "legendY": 169.8, "direction": "horizontal", "labelFontSize": 8.9, "symbolType": "M-3.33,0H3.33", "symbolSize": 36, "symbolStrokeWidth": 3, "labelOffset": 7.5, "columnPadding": 6.7,
                   "labelExpr": "datum.label == 'es' ? 'Euro Area' : datum.label == 'gs' ? 'Germany' : datum.label == 'fs' ? 'France' : 'UK'"}}
 }},
{"data": {"values": [{}]},
 "mark": {"type": "rule", "color": "#E3000F", "strokeDash": [4, 3], "strokeWidth": 1.5},
 "encoding": {"y": {"datum": 50, "type": "quantitative"}}},
{"data": {"values": [{}]},
 "mark": {"type": "text", "align": "left", "baseline": "middle", "fontSize": 9, "dx": 3.3, "color": "#404040"},
 "encoding": {"x": {"datum": {"year": 2016, "month": 1, "date": 1, "utc": true}, "type": "temporal"}, "y": {"datum": 63.2, "type": "quantitative"}, "text": {"value": "Index, 50+ = Expansion"}}}
]
},
{
"width": 304.3, "height": 5.3,
"data": {"values": [{}]},
"layer": [
{"mark": {"type": "rule", "color": "#d9d9d9", "strokeWidth": 1},
 "encoding": {"x": {"datum": 0, "type": "quantitative", "scale": {"domain": [0, 1], "range": [-26.7, 304.3]}, "axis": null}, "x2": {"datum": 1}, "y": {"datum": 0, "type": "quantitative", "scale": {"domain": [0, 1]}, "axis": null}}},
{"mark": {"type": "text", "align": "left", "baseline": "middle", "dy": 11, "fontSize": 8.8, "color": "#333333"},
 "encoding": {"x": {"datum": 0, "type": "quantitative"}, "y": {"datum": 0, "type": "quantitative"}, "text": {"value": "Source: Copyright © 2024, UBS, S&P GlobalTM. All rights reserved."}}}
]
}
],
"spacing": 6.9
}
],
"spacing": 20
},
{
"width": 652.3, "height": 157.4,
"data": {"values": [{}]},
"layer": [
{"mark": {"type": "rule", "color": "#595959", "strokeWidth": 1},
 "encoding": {"x": {"datum": 0, "type": "quantitative", "scale": {"domain": [0, 1], "range": [-28.7, 652.3]}, "axis": null}, "x2": {"datum": 1}, "y": {"datum": 0, "type": "quantitative", "scale": {"domain": [0, 1]}, "axis": null}}},
{"mark": {"type": "text", "align": "left", "baseline": "middle", "dy": 12, "fontSize": 10.9, "fontWeight": "bold", "color": "#1a1a1a"},
 "encoding": {"x": {"datum": 0, "type": "quantitative"}, "y": {"datum": 0, "type": "quantitative"}, "text": {"value": "European Economic Comment"}}},
{"mark": {"type": "text", "align": "left", "baseline": "middle", "dy": 12, "dx": 162, "fontSize": 10.9, "color": "#333333"},
 "encoding": {"x": {"datum": 0, "type": "quantitative"}, "y": {"datum": 0, "type": "quantitative"}, "text": {"value": "23 September 2024"}}},
{"mark": {"type": "text", "align": "right", "baseline": "middle", "dy": 12, "fontSize": 10.9, "color": "#333333"},
 "encoding": {"x": {"datum": 1, "type": "quantitative"}, "y": {"datum": 0, "type": "quantitative"}, "text": {"value": "2"}}},
{"mark": {"type": "text", "align": "right", "baseline": "middle", "dy": 12, "dx": -12, "fontSize": 10.5, "font": "Liberation Serif", "color": "#1a1a1a"},
 "encoding": {"x": {"datum": 1, "type": "quantitative"}, "y": {"datum": 0, "type": "quantitative"}, "text": {"value": "UBS"}}}
]
}
],
"spacing": 32,
"config": {
  "view": {"stroke": null},
  "font": "Liberation Sans",
  "text": {"font": "Liberation Sans"},
  "axis": {"labelFont": "Liberation Sans", "labelColor": "#404040", "ticks": false, "grid": false, "domainColor": "#7f7f7f", "domainWidth": 1, "labelOverlap": false},
  "legend": {"labelFont": "Liberation Sans", "labelColor": "#404040", "padding": 0}
}
}
